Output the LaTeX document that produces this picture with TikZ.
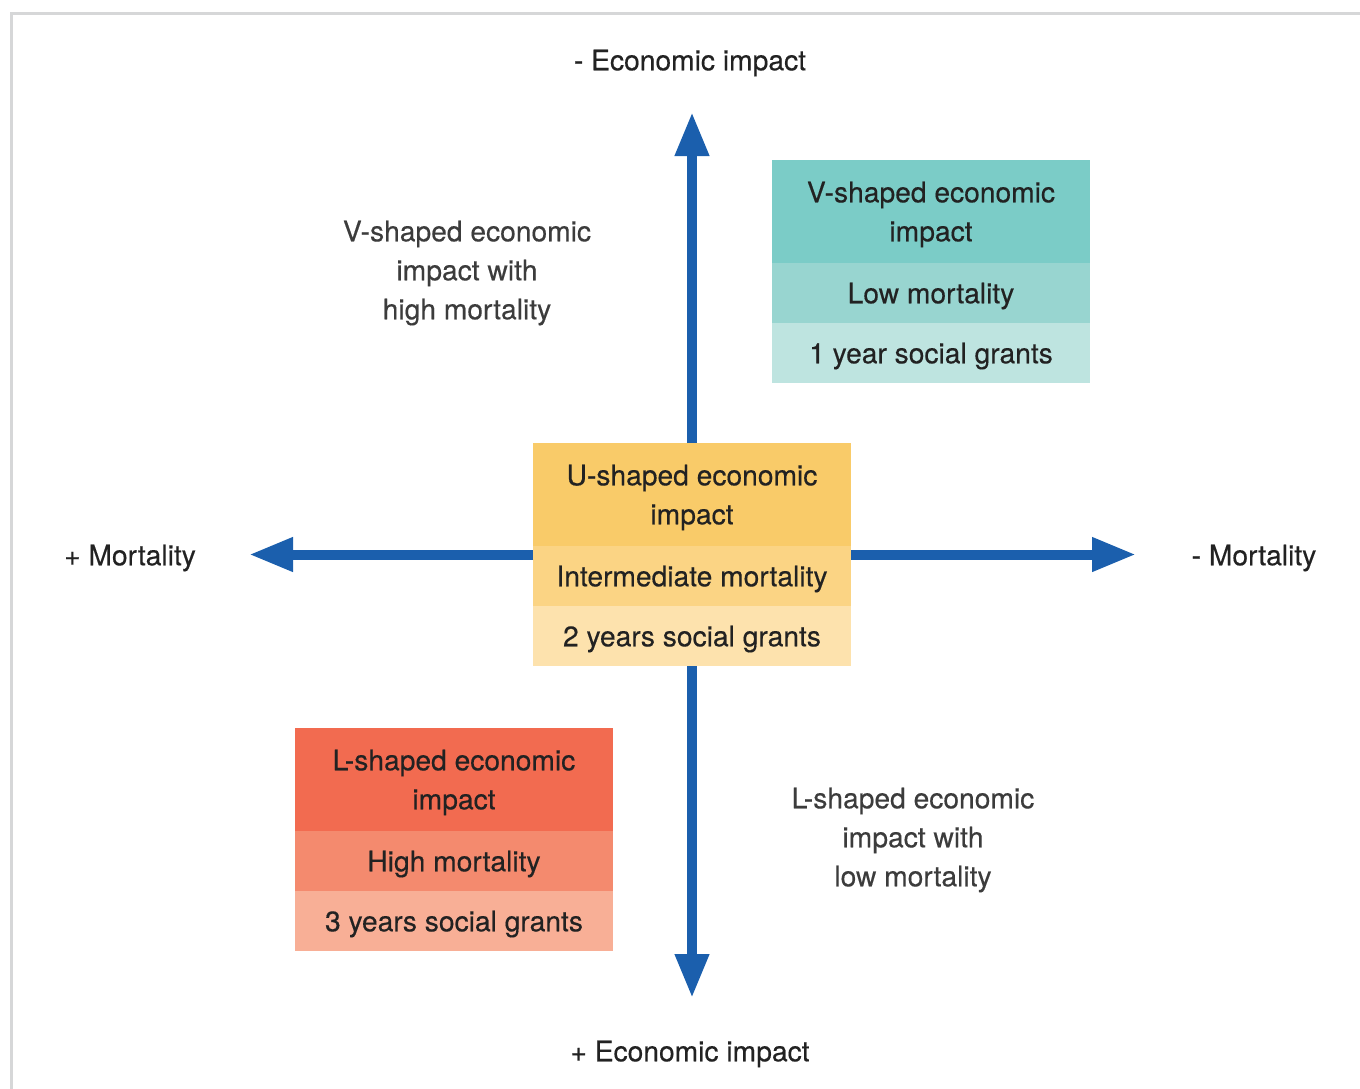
\documentclass[tikz,border=0pt]{standalone}
\usepackage{fontspec}
\setmainfont{TeX Gyre Heros}[FakeBold=0.35]
\usetikzlibrary{positioning,arrows.meta}

\definecolor{axisblue}{HTML}{1B5FAD}
\definecolor{framegray}{HTML}{D6D7D8}
\definecolor{textdark}{HTML}{222222}
\definecolor{textsoft}{HTML}{3C3C3C}
\definecolor{tealA}{HTML}{7BCCC7}
\definecolor{tealB}{HTML}{98D5D0}
\definecolor{tealC}{HTML}{BEE4E0}
\definecolor{sunA}{HTML}{F9CB69}
\definecolor{sunB}{HTML}{FBD484}
\definecolor{sunC}{HTML}{FDE2AD}
\definecolor{redA}{HTML}{F26B50}
\definecolor{redB}{HTML}{F48A6E}
\definecolor{redC}{HTML}{F8AF96}

\tikzset{
  row/.style={minimum width=159pt, inner sep=0pt, outer sep=0pt, align=center,
    text=textdark, text depth=0pt, font=\fontsize{14.1}{19.5}\selectfont},
  titlerow/.style={row, minimum height=51.5pt},
  subrow/.style={row, minimum height=30pt},
  axislabel/.style={text=textdark, text depth=0pt, font=\fontsize{14.1}{19.5}\selectfont},
  quadlabel/.style={text=textsoft, align=center, text depth=0pt,
    font=\fontsize{14.1}{19.5}\selectfont},
  axis/.style={draw=axisblue, line width=5pt, -{Triangle[length=22pt,width=16pt]}}
}

\begin{document}
\begin{tikzpicture}[x=0.5pt, y=-0.5pt]
    \useasboundingbox (0,0) rectangle (1360,1088);
    \draw[framegray, line width=1.5pt] (1362,13.5) -- (11.5,13.5) -- (11.5,1090);

    % axis ends
    \coordinate (hub) at (692,554.5);
    \coordinate (topTip) at (692,112);
    \coordinate (bottomTip) at (692,998);
    \coordinate (leftTip) at (249,554.5);
    \coordinate (rightTip) at (1136,554.5);

    % V-shaped box
    \node[titlerow, fill=tealA] (vTitle) at (931,211.5) {V-shaped economic\\impact};
    \node[subrow, fill=tealB, below=0pt of vTitle] (vMort) {Low mortality};
    \node[subrow, fill=tealC, below=0pt of vMort] (vGrant) {1 year social grants};

    % U-shaped box
    \node[titlerow, fill=sunA] (uTitle) at (692,494.5) {U-shaped economic\\impact};
    \node[subrow, fill=sunB, below=0pt of uTitle] (uMort) {Intermediate mortality};
    \node[subrow, fill=sunC, below=0pt of uMort] (uGrant) {2 years social grants};

    % L-shaped box
    \node[titlerow, fill=redA] (lTitle) at (454,779.5) {L-shaped economic\\impact};
    \node[subrow, fill=redB, below=0pt of lTitle] (lMort) {High mortality};
    \node[subrow, fill=redC, below=0pt of lMort] (lGrant) {3 years social grants};

    \draw[axis] (uTitle.north) -- (topTip);
    \draw[axis] (uGrant.south) -- (bottomTip);
    \draw[axis] (hub -| uMort.west) -- (leftTip);
    \draw[axis] (hub -| uMort.east) -- (rightTip);

    \node[axislabel] (ecoMinus) at (690,60) {- Economic impact};
    \node[axislabel] (ecoPlus) at (690,1051) {+ Economic impact};
    \node[axislabel] (mortPlus) at (130,555) {+ Mortality};
    \node[axislabel] (mortMinus) at (1254,555) {- Mortality};

    \node[quadlabel] (vHigh) at (467,270) {V-shaped economic\\impact with\\high mortality};
    \node[quadlabel] (lLow) at (913,837) {L-shaped economic\\impact with\\low mortality};
\end{tikzpicture}
\end{document}
